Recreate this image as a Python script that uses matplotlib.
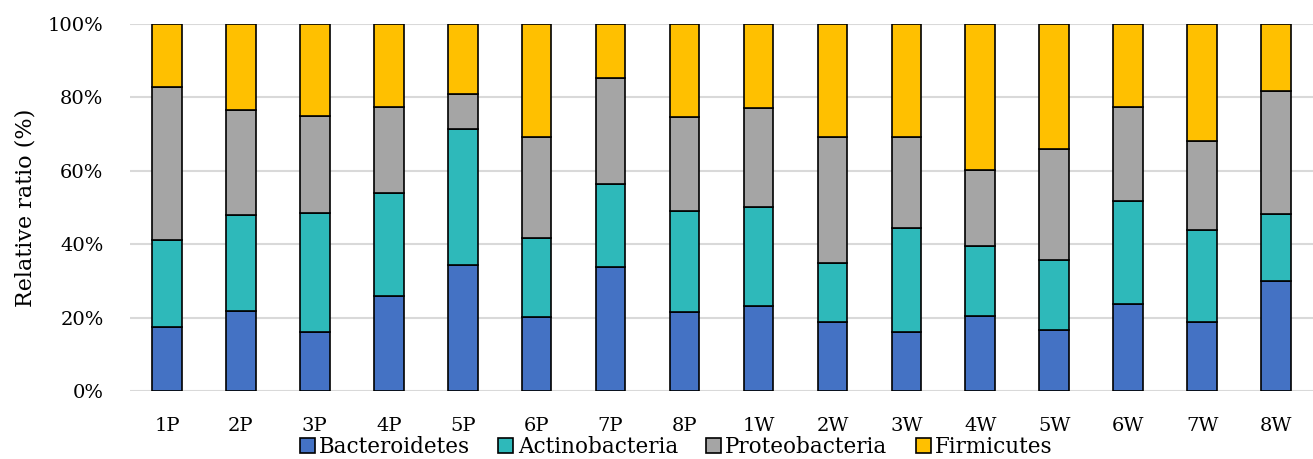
import matplotlib

matplotlib.use("Agg")
import matplotlib.pyplot as plt  # noqa: E402
import numpy as np  # noqa: E402

plt.rcParams["font.family"] = ["DejaVu Serif"]

samples = ["1P", "2P", "3P", "4P", "5P", "6P", "7P", "8P",
           "1W", "2W", "3W", "4W", "5W", "6W", "7W", "8W"]
bacteroidetes = [17.5, 21.7, 16.0, 26.0, 34.2, 20.2, 33.8, 21.4,
                 23.2, 18.8, 16.0, 20.5, 16.6, 23.7, 18.7, 29.9]
actinobacteria = [23.6, 26.3, 32.4, 28.0, 37.1, 21.5, 22.6, 27.6,
                  26.9, 16.1, 28.4, 19.1, 19.1, 28.1, 25.2, 18.2]
proteobacteria = [41.7, 28.6, 26.6, 23.3, 9.6, 27.6, 29.0, 25.6,
                  27.1, 34.3, 24.8, 20.7, 30.2, 25.5, 24.2, 33.7]
firmicutes = [17.2, 23.4, 25.0, 22.7, 19.1, 30.7, 14.6, 25.4,
              22.8, 30.8, 30.8, 39.7, 34.1, 22.7, 31.9, 18.2]

series = [
    ("Bacteroidetes", bacteroidetes, "#4472C4"),
    ("Actinobacteria", actinobacteria, "#2EB9BA"),
    ("Proteobacteria", proteobacteria, "#A5A5A5"),
    ("Firmicutes", firmicutes, "#FFC000"),
]

fig = plt.figure(figsize=(13.13, 4.59), dpi=100)
ax = fig.add_axes([130 / 1313, 1 - 391 / 459, 1 - 130 / 1313, 367 / 459])

x = np.arange(len(samples))
bottom = np.zeros(len(samples))
for name, vals, color in series:
    vals = np.array(vals)
    ax.bar(x, vals, width=0.4, bottom=bottom, color=color, edgecolor="black",
           linewidth=1.2, label=name, zorder=3)
    bottom += vals

ax.set_xlim(-0.5, len(samples) - 0.5)
ax.set_ylim(0, 100)
ax.set_yticks(np.arange(0, 101, 20))
ax.set_yticklabels([f"{v}%" for v in range(0, 101, 20)], fontsize=14)
ax.set_xticks(x)
ax.set_xticklabels(samples, fontsize=14)
ax.tick_params(axis="both", length=0)
ax.tick_params(axis="x", pad=19)
ax.tick_params(axis="y", pad=19)
ax.yaxis.grid(True, color="#d9d9d9", linewidth=1.5, zorder=0)
for s in ax.spines.values():
    s.set_visible(False)
ax.set_ylabel("Relative ratio (%)", fontsize=16, labelpad=8)

fig.legend(loc="center", bbox_to_anchor=(0.515, 0.026), ncol=4, frameon=False,
           fontsize=15.5, handlelength=0.7, handleheight=0.7, handletextpad=0.2,
           columnspacing=1.3, borderaxespad=0)

fig.savefig("out.png", dpi=100)
